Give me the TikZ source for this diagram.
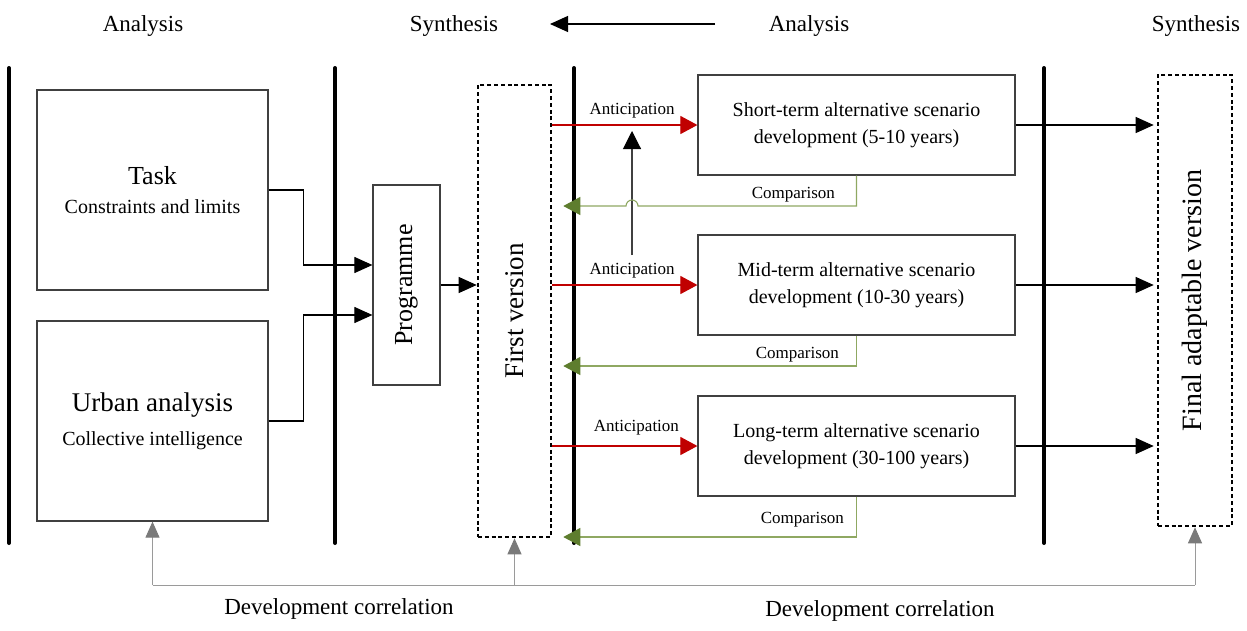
\documentclass[tikz,border=0pt]{standalone}
\usepackage{fontspec}
\setmainfont{Liberation Serif}
\usetikzlibrary{arrows.meta,positioning,calc}
\definecolor{BoxGray}{HTML}{404040}
\definecolor{AntRed}{HTML}{C00000}
\definecolor{CmpGreen}{HTML}{8FA862}
\definecolor{CmpDark}{HTML}{5E7D2E}
\definecolor{CorrGray}{HTML}{9A9A9A}
\definecolor{CorrDark}{HTML}{7A7A7A}

\begin{document}
\begin{tikzpicture}[x=1pt,y=-1pt,
    box/.style={draw=BoxGray,line width=1.2pt,inner sep=0pt,align=center},
    dashbox/.style={draw=black,line width=2.6pt,dash pattern=on 4pt off 2.8pt,inner sep=0pt},
    divider/.style={line width=4pt,line cap=round},
    conn/.style={line width=1.1pt,-{Triangle[length=18pt,width=16pt]}},
    ant/.style={AntRed,line width=1.1pt,-{Triangle[length=17pt,width=18pt]}},
    cmp/.style={CmpGreen,line width=1.1pt,-{Triangle[length=17pt,width=18pt,color=CmpDark]}},
    corr/.style={CorrGray,line width=1pt,-{Triangle[length=16pt,width=14pt,color=CorrDark]}},
    hdr/.style={font=\fontsize{23}{27}\selectfont},
    small/.style={font=\fontsize{17}{20}\selectfont,text=black,inner sep=0pt}]
  \useasboundingbox (0,0) rectangle (1247,630);

  % phase headers
  \node[hdr] (anaA) at (143,26) {Analysis};
  \node[hdr] (synA) at (454,26) {Synthesis};
  \node[hdr] (anaB) at (809,26) {Analysis};
  \node[hdr] (synB) at (1196,26) {Synthesis};
  \coordinate (backR) at (715,24);
  \coordinate (backL) at (550,24);
  \draw[conn] (backR) -- (backL);

  % dividers
  \foreach \x in {9,335,574,1044}
    \draw[divider] (\x,68) -- (\x,543);

  % inputs
  \node[box,minimum width=231pt,minimum height=200pt,font=\fontsize{20}{29}\selectfont]
    (task) at (152.5,190) {{\fontsize{26}{29}\selectfont Task}\\Constraints and limits};
  \node[box,minimum width=231pt,minimum height=200pt,font=\fontsize{20}{34}\selectfont]
    (urban) at (152.5,421) {{\fontsize{27}{34}\selectfont Urban analysis}\\Collective intelligence};

  % programme and first version
  \node[box,minimum width=67pt,minimum height=200pt] (prog) at (406.5,285) {};
  \node[rotate=90,font=\fontsize{26}{30}\selectfont] at (prog) {Programme};
  \node[dashbox,minimum width=73pt,minimum height=452pt] (first) at (514.5,311) {};
  \node[rotate=90,font=\fontsize{27}{30}\selectfont] at (first) {First version};

  \draw[conn] (task.east) -- ++(35,0) |- ([yshift=20pt]prog.west);
  \draw[conn] (urban.east) -- ++(35,0) |- ([yshift=-30pt]prog.west);
  \draw[conn] (prog.east) -- (first.west |- prog.east);

  % scenarios
  \node[box,minimum width=317pt,minimum height=100pt,font=\fontsize{20}{27}\selectfont]
    (short) at (856.5,125) {Short-term alternative scenario\\development (5-10 years)};
  \node[box,minimum width=317pt,minimum height=100pt,font=\fontsize{20}{27}\selectfont]
    (mid) at (856.5,285) {Mid-term alternative scenario\\development (10-30 years)};
  \node[box,minimum width=317pt,minimum height=100pt,font=\fontsize{20}{27}\selectfont]
    (long) at (856.5,446) {Long-term alternative scenario\\development (30-100 years)};

  % anticipation
  \draw[ant] (first.east |- short.west) -- node[small,above=6pt,pos=.55] {Anticipation} (short.west);
  \draw[ant] (first.east |- mid.west) -- node[small,above=6pt,pos=.55] {Anticipation} (mid.west);
  \draw[ant] (first.east |- long.west) -- node[small,above=10pt,pos=.58] {Anticipation} (long.west);
  \coordinate (upB) at (632,255);
  \coordinate (upA) at (632,131);
  \draw[conn,draw=BoxGray,-{Triangle[length=18pt,width=18pt,color=black]}] (upB) -- (upA);

  % comparison
  \draw[cmp] (short.south) |- node[small,pos=.5,anchor=south east,xshift=-21pt,yshift=3pt] {Comparison}
    (638,206) arc[start angle=0,end angle=-180,radius=6]
    -- ([xshift=11pt]first.east |- 0,206);
  \draw[cmp] (mid.south) |- node[small,pos=.5,anchor=south east,xshift=-17pt,yshift=3pt] {Comparison}
    ([xshift=11pt]first.east |- 0,366);
  \draw[cmp] (long.south) |- node[small,pos=.5,anchor=south east,xshift=-12pt,yshift=9pt] {Comparison}
    ([xshift=11pt]first.east |- 0,537);

  % final version
  \node[dashbox,minimum width=74pt,minimum height=451pt] (final) at (1195,300.5) {};
  \node[rotate=90,font=\fontsize{28}{30}\selectfont] at (final) {Final adaptable version};
  \foreach \s in {short,mid,long}
    \draw[conn,shorten >=3pt] (\s.east) -- (final.west |- \s.east);

  % development correlation
  \coordinate (base) at (0,585);
  \draw[CorrGray,line width=1pt] (urban.south |- base) -- (final.south |- base);
  \draw[corr] (urban.south |- base) -- (urban.south);
  \draw[corr] (first.south |- base) -- (first.south);
  \draw[corr] (final.south |- base) -- (final.south);
  \node[hdr] (corrL) at (339,609) {Development correlation};
  \node[hdr] (corrR) at (880,611) {Development correlation};
\end{tikzpicture}
\end{document}
